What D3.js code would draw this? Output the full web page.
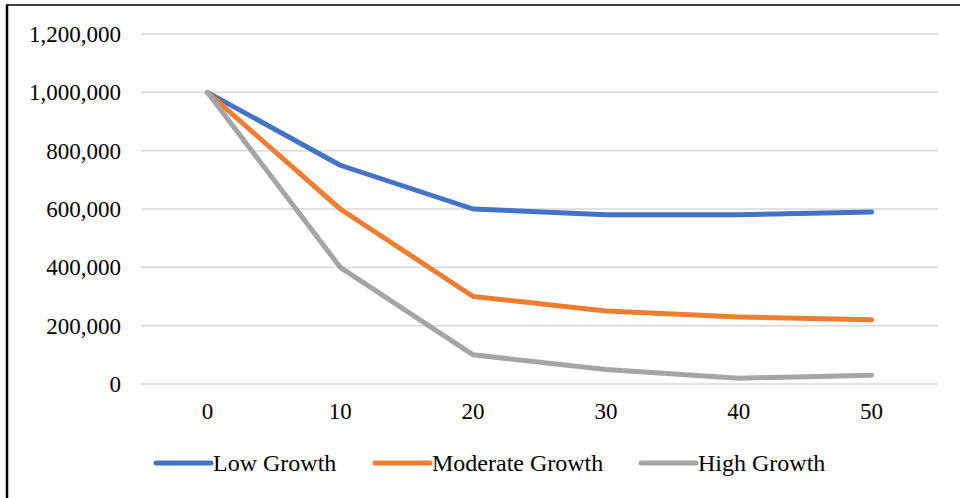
<!DOCTYPE html>
<html>
<head>
<meta charset="utf-8">
<script src="https://cdn.jsdelivr.net/npm/d3@7/dist/d3.min.js"></script>
<style>
  html, body { margin: 0; padding: 0; background: #fff; }
  svg { display: block; }
  text { font-family: "Liberation Serif", "Times New Roman", serif; fill: #000; }
</style>
</head>
<body>
<script>
// Years on the horizontal axis
const categories = [0, 10, 20, 30, 40, 50];
// Population remaining under each growth scenario
const lowGrowth = [1000000, 750000, 600000, 580000, 580000, 590000];
const moderateGrowth = [1000000, 600000, 300000, 250000, 230000, 220000];
const highGrowth = [1000000, 400000, 100000, 50000, 20000, 30000];
const seriesNames = ["Low Growth", "Moderate Growth", "High Growth"];
const seriesColors = ["#4472C4", "#ED7D31", "#A5A5A5"];
const yTicks = [0, 200000, 400000, 600000, 800000, 1000000, 1200000];

const series = [lowGrowth, moderateGrowth, highGrowth].map((values, i) => ({
  name: seriesNames[i], color: seriesColors[i], values
}));

const W = 960, H = 498;
const svg = d3.select("body").append("svg").attr("width", W).attr("height", H);

// Frame: left and top edges
svg.append("path")
  .attr("d", `M7,${H} V5`)
  .attr("stroke", "#000").attr("stroke-width", 2.5).attr("fill", "none");
svg.append("path")
  .attr("d", `M6,5 H${W}`)
  .attr("stroke", "#000").attr("stroke-width", 1.5).attr("fill", "none");

const plot = { left: 141, right: 938, top: 34, bottom: 384 };

const x = d3.scaleBand().domain(categories).range([plot.left, plot.right]);
const y = d3.scaleLinear().domain([0, 1200000]).range([plot.bottom, plot.top]);
const fmt = d3.format(",");

// Horizontal gridlines
svg.append("g").selectAll("line").data(yTicks).join("line")
  .attr("x1", plot.left).attr("x2", plot.right)
  .attr("y1", d => y(d)).attr("y2", d => y(d))
  .attr("stroke", "#D9D9D9").attr("stroke-width", 1.5);

// Y axis labels
const yAxis = svg.append("g")
  .attr("transform", `translate(${plot.left - 20},0)`)
  .call(d3.axisLeft(y).tickValues(yTicks).tickFormat(fmt).tickSize(0).tickPadding(0));
yAxis.select(".domain").remove();
yAxis.selectAll("text")
  .attr("font-size", 23).attr("fill", "#000")
  .style("font-family", "'Liberation Serif', 'Times New Roman', serif");

// X axis labels
const xAxis = svg.append("g")
  .attr("transform", `translate(0,${plot.bottom + 19})`)
  .call(d3.axisBottom(x).tickSize(0).tickPadding(0));
xAxis.select(".domain").remove();
xAxis.selectAll("text")
  .attr("font-size", 23).attr("fill", "#000")
  .style("font-family", "'Liberation Serif', 'Times New Roman', serif");

// Series lines
const line = d3.line()
  .x((d, i) => x(categories[i]) + x.bandwidth() / 2)
  .y(d => y(d));

svg.append("g").selectAll("path").data(series).join("path")
  .attr("d", d => line(d.values))
  .attr("fill", "none")
  .attr("stroke", d => d.color)
  .attr("stroke-width", 5)
  .attr("stroke-linejoin", "round")
  .attr("stroke-linecap", "round");

// Legend
const legendX = [156, 375, 641];
const legend = svg.append("g").selectAll("g").data(series).join("g")
  .attr("transform", (d, i) => `translate(${legendX[i]},463)`);
legend.append("line")
  .attr("x1", 0).attr("x2", 55).attr("y1", 0).attr("y2", 0)
  .attr("stroke", d => d.color).attr("stroke-width", 5).attr("stroke-linecap", "round");
legend.append("text")
  .attr("x", 57).attr("y", 8)
  .attr("font-size", 24)
  .text(d => d.name);
</script>
</body>
</html>
